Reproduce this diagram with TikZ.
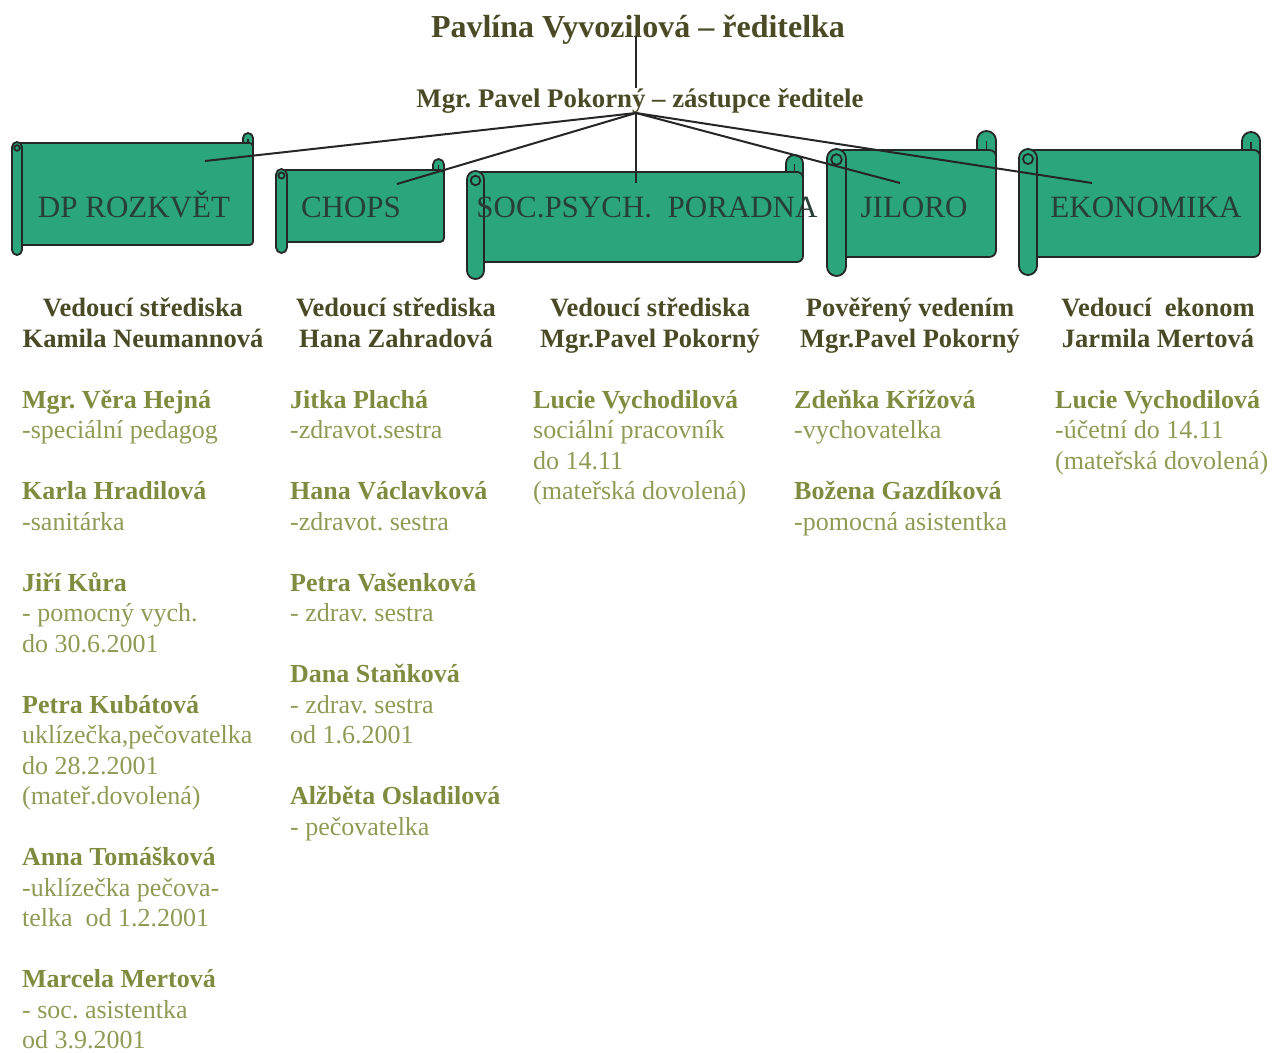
\documentclass[tikz,border=0pt]{standalone}
\usepackage{fontspec}
\setmainfont{Liberation Serif}
\usepackage{tikz}
\frenchspacing
\definecolor{scrollgreen}{HTML}{2BA57C}
\definecolor{headolive}{HTML}{4A4A26}
\definecolor{nameolive}{HTML}{7F8C3F}
\definecolor{descolive}{HTML}{8F9B55}
\definecolor{inkdark}{HTML}{262626}
\newcommand{\nm}[1]{{\bfseries\color{nameolive}#1}}

\begin{document}
\begin{tikzpicture}[x=1pt,y=-1pt,
    scroll/.style={fill=scrollgreen, draw=inkdark, line width=1.8pt},
    link/.style={draw=inkdark, line width=2pt},
    unit/.style={anchor=base, inner sep=0pt, text=inkdark!80!scrollgreen, font=\fontsize{31}{36}\selectfont},
    head/.style={anchor=base, align=center, inner sep=0pt, text=headolive, font=\bfseries\fontsize{26.5}{30.5}\selectfont},
    staff/.style={anchor=base west, align=left, inner sep=0pt, text=descolive, font=\fontsize{26}{30.5}\selectfont}]
  \useasboundingbox (0,0) rectangle (1274,1052);
  \def\scrollbox#1#2#3#4#5{%
    \filldraw[scroll, rounded corners={#5*0.5pt}] ({#3-#5},{#2-#5}) rectangle (#3,{#2+#5});
    \filldraw[scroll, rounded corners={#5*0.35pt}] ({#1+#5*0.5},#2) rectangle (#3,#4);
    \draw[scroll] ({#3-#5*0.5},#2) -- ({#3-#5*0.5},{#2-#5*0.45});
    \filldraw[scroll, rounded corners={#5*0.5pt}] (#1,{#2-1}) rectangle ({#1+#5},{#4+#5});
    \draw[scroll] ({#1+#5*0.5},{#2+#5*0.5}) circle ({#5*0.28pt});}

  \scrollbox{12}{143}{253}{245}{10}
  \scrollbox{276}{170}{444}{242}{11}
  \scrollbox{467}{172}{803}{262}{17}
  \scrollbox{827}{150}{996}{257}{19}
  \scrollbox{1019}{150}{1260}{257}{18}

  \node[head, font=\bfseries\fontsize{32}{36}\selectfont] (boss) at (638,37) {Pavlína Vyvozilová – ředitelka};
  \node[head, font=\bfseries\fontsize{26.8}{30.5}\selectfont] (deputy) at (640,107) {Mgr. Pavel Pokorný – zástupce ředitele};

  \coordinate (boss-stem) at (636,36);
  \coordinate (deputy-top) at (636,88);
  \coordinate (hub) at (636,113);
  \coordinate (dp-end) at (205,161);
  \coordinate (chops-end) at (397,184);
  \coordinate (soc-end) at (636,183);
  \coordinate (jil-end) at (900,183);
  \coordinate (eko-end) at (1092,183);

  \draw[link] (boss-stem) -- (deputy-top);
  \foreach \t in {dp,chops,soc,jil,eko}
    \draw[link] (hub) -- (\t-end);

  \node[unit] (dp) at (134,217) {DP ROZKVĚT};
  \node[unit] (chops) at (351,217) {CHOPS};
  \node[unit] (soc) at (647,217) {SOC.PSYCH.\ \ PORADNA};
  \node[unit] (jil) at (914,217) {JILORO};
  \node[unit] (eko) at (1146,217) {EKONOMIKA};

  \node[head] (dp-head) at (143,347) {Vedoucí střediska\\Kamila Neumannová};
  \node[head] (chops-head) at (396,347) {Vedoucí střediska\\Hana Zahradová};
  \node[head] (soc-head) at (650,347) {Vedoucí střediska\\Mgr.Pavel Pokorný};
  \node[head] (jil-head) at (910,347) {Pověřený vedením\\Mgr.Pavel Pokorný};
  \node[head] (eko-head) at (1158,347) {Vedoucí\ \ ekonom\\Jarmila Mertová};

  \node[staff] (dp-staff) at (22,1048.5) {\nm{Mgr. Věra Hejná}\\-speciální pedagog\\[30.5pt]
    \nm{Karla Hradilová}\\-sanitárka\\[30.5pt]
    \nm{Jiří Kůra}\\- pomocný vych.\\do 30.6.2001\\[30.5pt]
    \nm{Petra Kubátová}\\uklízečka,pečovatelka\\do 28.2.2001\\(mateř.dovolená)\\[30.5pt]
    \nm{Anna Tomášková}\\-uklízečka pečova-\\telka\ \ od 1.2.2001\\[30.5pt]
    \nm{Marcela Mertová}\\- soc. asistentka\\od 3.9.2001};
  \node[staff] (chops-staff) at (290,835) {\nm{Jitka Plachá}\\-zdravot.sestra\\[30.5pt]
    \nm{Hana Václavková}\\-zdravot. sestra\\[30.5pt]
    \nm{Petra Vašenková}\\- zdrav. sestra\\[30.5pt]
    \nm{Dana Staňková}\\- zdrav. sestra\\od 1.6.2001\\[30.5pt]
    \nm{Alžběta Osladilová}\\- pečovatelka};
  \node[staff] (soc-staff) at (533,499.5) {\nm{Lucie Vychodilová}\\sociální pracovník\\do 14.11\\(mateřská dovolená)};
  \node[staff] (jil-staff) at (794,530) {\nm{Zdeňka Křížová}\\-vychovatelka\\[30.5pt]
    \nm{Božena Gazdíková}\\-pomocná asistentka};
  \node[staff] (eko-staff) at (1055,469) {\nm{Lucie Vychodilová}\\-účetní do 14.11\\(mateřská dovolená)};
\end{tikzpicture}
\end{document}
